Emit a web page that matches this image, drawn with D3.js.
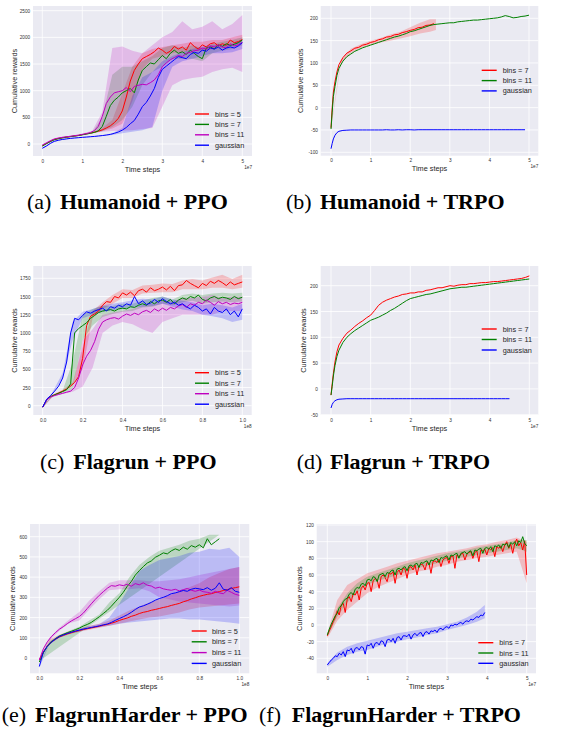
<!DOCTYPE html>
<html><head><meta charset="utf-8">
<script src="https://cdn.jsdelivr.net/npm/d3@7"></script>
<style>body{margin:0;background:#fff}svg{display:block}</style>
</head><body>
<svg id="fig" width="564" height="733"></svg>
<script>
// ---------------- DATA ----------------
// (a) Humanoid + PPO   x in units of 1e7 time steps
const aX = [0,0.1,0.2,0.3,0.4,0.5,0.6,0.7,0.8,0.9,1.0,1.1,1.2,1.3,1.4,1.5,1.6,1.7,1.8,1.9,2.0,2.1,2.2,2.3,2.4,2.5,2.6,2.7,2.8,2.9,3.0,3.1,3.2,3.3,3.4,3.5,3.6,3.7,3.8,3.9,4.0,4.1,4.2,4.3,4.4,4.5,4.6,4.7,4.8,4.9,5.0];
const aBins5  = [-30,10,50,85,105,118,130,140,150,160,175,190,205,220,240,265,300,340,400,480,620,880,1180,1380,1500,1600,1640,1680,1730,1800,1760,1700,1740,1830,1780,1820,1760,1900,1830,1780,1860,1820,1880,1900,1840,1880,1850,1950,1900,1920,1960];
const aBins7  = [-40,5,45,80,100,115,128,138,148,158,172,186,200,218,245,330,520,720,820,880,960,1000,1040,960,1200,1380,1450,1520,1500,1580,1660,1600,1700,1760,1700,1730,1680,1760,1700,1640,1600,1800,1820,1780,1860,1830,1880,1850,1870,1900,1950];
const aBins11 = [-20,20,60,95,112,125,135,145,155,165,180,195,215,250,330,520,760,880,960,980,1000,1060,980,1080,1100,1120,1110,1150,1200,1300,1450,1520,1580,1620,1660,1640,1700,1720,1750,1760,1800,1780,1840,1820,1860,1820,1800,1880,1840,1860,1900];
const aGauss  = [-80,-40,10,50,70,85,95,105,112,118,125,130,136,142,150,158,168,180,200,225,260,310,380,440,560,700,780,900,1040,1250,1400,1460,1520,1580,1640,1620,1600,1680,1720,1700,1760,1740,1800,1780,1820,1760,1800,1820,1800,1840,1900];
const aBX = [0,0.25,0.5,0.75,1.0,1.25,1.5,1.75,2.0,2.25,2.5,2.75,3.0,3.25,3.5,3.75,4.0,4.25,4.5,4.75,5.0];
const aBins5Lo  = [-40,65,110,138,170,205,245,290,380,800,1400,1600,1650,1700,1720,1750,1750,1780,1800,1850,1880];
const aBins5Hi  = [-20,80,125,150,182,220,300,450,950,1450,1700,1780,1820,1850,1880,1920,1920,1950,1950,2000,2050];
const aBins7Lo  = [-50,60,105,135,165,200,240,320,450,700,1100,1350,1450,1600,1600,1600,1550,1700,1750,1780,1850];
const aBins7Hi  = [-30,75,120,148,180,220,500,1300,1450,1450,1550,1650,1800,1850,1800,1850,1800,1880,1920,1950,2000];
const aBins11Lo = [-30,70,115,140,170,200,230,245,250,260,280,300,700,1100,1200,1240,1260,1350,1400,1430,1350];
const aBins11Hi = [-10,90,135,160,195,250,600,1800,1830,1750,1700,1850,2000,2100,2300,2150,2200,2300,2150,2250,2420];
const aGaussLo  = [-90,30,80,105,120,135,150,170,200,230,260,320,1000,1450,1550,1600,1650,1700,1700,1720,1780];
const aGaussHi  = [-70,50,95,118,132,145,165,200,300,900,1250,1350,1550,1650,1720,1780,1830,1860,1850,1880,1950];

// (b) Humanoid + TRPO   x in units of 1e7
const bX = [0,0.03,0.06,0.1,0.15,0.2,0.3,0.4,0.5,0.6,0.7,0.8,0.9,1.0,1.1,1.2,1.3,1.4,1.5,1.6,1.7,1.8,1.9,2.0,2.1,2.2,2.3,2.4,2.5,2.6,2.7,2.8,2.9,3.0,3.1,3.2,3.3,3.4,3.5,3.6,3.7,3.8,3.9,4.0,4.1,4.2,4.3,4.4,4.5,4.6,4.7,4.8,4.9,5.0];
const bBins7  = [-45,0,35,58,80,96,112,122,127,133,135,140,142,146,148,152,154,158,159,163,164,168,170,173,175,179,180,184,185,188];
const bBins11 = [-48,-10,25,47,72,88,104,114,120,126,130,134,137,140,143,146,149,152,155,158,160,163,166,170,172,175,178,181,184,186,187,188,189,190,190,192,193,194,195,196,196,197,198,199,200,201,203,206,204,201,202,204,205,207];
const bGauss  = [-92,-80,-70,-62,-56,-53,-51,-50.5,-50,-50,-50,-50,-50,-50,-50,-50,-50,-49.5,-50,-50,-49.5,-50,-49.5,-49.5,-50,-49.5,-49.5,-49.5,-49.5,-49.5,-49.5,-49.5,-49.5,-49.5,-49.5,-49.5,-49.5,-49.5,-49.5,-49.5,-49.5,-49.5,-49.5,-49.5,-49.5,-49.5,-49.5,-49.5,-49.5,-49.5,-49.5,-49.5,-49.5];
const bBX = [0,0.25,0.5,0.75,1.0,1.25,1.5,1.75,2.0,2.25,2.5,2.65];
const bBins7Lo = [-48,98,122,134,140,146,150,155,160,166,170,174];
const bBins7Hi = [-42,106,132,142,150,156,164,170,180,190,198,198];

// (c) Flagrun + PPO   x in units of 1e8
const cX = [0,0.02,0.04,0.06,0.08,0.1,0.12,0.14,0.16,0.18,0.2,0.22,0.24,0.26,0.28,0.3,0.32,0.34,0.36,0.38,0.4,0.42,0.44,0.46,0.48,0.5,0.52,0.54,0.56,0.58,0.6,0.62,0.64,0.66,0.68,0.7,0.72,0.74,0.76,0.78,0.8,0.82,0.84,0.86,0.88,0.9,0.92,0.94,0.96,0.98,1.0];
const cBins5  = [-20,80,125,150,175,200,230,270,320,400,650,1100,1230,1260,1300,1380,1430,1420,1500,1480,1550,1520,1560,1510,1580,1600,1560,1620,1580,1600,1630,1590,1640,1580,1650,1660,1720,1680,1650,1620,1680,1650,1710,1680,1720,1690,1650,1700,1660,1680,1700];
const cBins7  = [-20,80,125,150,170,195,220,300,1000,1060,1100,1140,1200,1240,1280,1300,1310,1320,1300,1330,1340,1330,1360,1350,1380,1400,1380,1430,1400,1440,1450,1420,1460,1400,1450,1480,1460,1500,1480,1520,1460,1440,1480,1500,1470,1490,1480,1460,1500,1470,1490];
const cBins11 = [-20,80,120,140,155,170,185,200,250,380,560,680,760,880,1050,1150,1180,1200,1210,1190,1230,1260,1240,1270,1250,1290,1310,1280,1330,1300,1340,1310,1350,1330,1370,1390,1350,1400,1380,1420,1400,1450,1420,1380,1430,1400,1420,1390,1410,1400,1420];
const cGauss  = [-20,90,140,200,270,380,600,1000,1200,1180,1240,1290,1270,1300,1320,1340,1300,1360,1340,1380,1360,1400,1380,1500,1400,1440,1390,1410,1460,1420,1470,1430,1400,1420,1380,1400,1360,1330,1380,1350,1300,1330,1260,1350,1300,1280,1330,1250,1300,1220,1330];
const cBX = [0,0.05,0.1,0.15,0.2,0.25,0.3,0.35,0.4,0.45,0.5,0.55,0.6,0.65,0.7,0.75,0.8,0.85,0.9,0.95,1.0];
const cBins5Lo  = [-25,130,190,280,500,1200,1330,1400,1480,1480,1540,1550,1560,1560,1600,1600,1600,1620,1620,1600,1620];
const cBins5Hi  = [-15,150,220,320,800,1300,1420,1520,1600,1590,1650,1660,1680,1670,1720,1740,1720,1760,1800,1740,1800];
const cBins7Lo  = [-25,130,180,230,900,1100,1220,1260,1290,1300,1350,1360,1400,1380,1420,1440,1400,1420,1430,1420,1430];
const cBins7Hi  = [-15,150,210,600,1250,1330,1370,1370,1400,1400,1440,1480,1500,1460,1520,1540,1520,1540,1550,1540,1550];
const cBins11Lo = [-25,120,160,190,260,520,1000,1100,1150,1120,1050,1000,1150,1200,1250,1250,1250,1250,1300,1300,1300];
const cBins11Hi = [-15,140,180,230,900,1050,1250,1280,1300,1330,1380,1400,1450,1430,1480,1480,1500,1520,1480,1500,1500];
const cGaussLo  = [-25,160,380,900,1200,1250,1290,1310,1330,1350,1360,1370,1400,1360,1320,1300,1250,1230,1200,1150,1180];
const cGaussHi  = [-15,190,450,1150,1290,1330,1380,1400,1420,1450,1470,1460,1500,1460,1440,1420,1380,1400,1380,1350,1400];

// (d) Flagrun + TRPO   x in units of 1e7
const dX = bX;
const dBins7  = [-12,10,30,52,72,85,98,108,114,121,127,132,138,143,152,162,168,172,175,178,180,183,184,186,186,188,188,191,192,194,196,196,198,200,199,201,202,202,204,204,205,206,206,207,208,208,209,210,211,212,213,214,216,219];
const dBins11 = [-12,5,25,45,63,75,90,100,107,113,118,123,128,133,136,139,143,147,152,156,161,166,171,175,177,179,181,183,184,186,188,190,192,194,195,196,197,197,198,199,200,201,202,203,204,205,206,207,208,209,210,211,212,213];
const dGauss  = [-37,-30,-26,-23,-21,-20,-19.5,-19,-19,-19,-19,-19,-19,-19,-19,-19,-19,-19,-19,-19,-19,-19,-19,-19,-19,-19,-19,-19,-19,-19,-19,-19,-19,-19,-19,-19,-19,-19,-19,-19,-19,-19,-19,-19,-19,-19,-19,-19,-19];

// (e) FlagrunHarder + PPO   x in units of 1e8
const eX = cX;
const eBins5  = [-10,30,58,78,92,104,112,119,125,131,136,141,145,149,153,157,162,166,172,178,186,192,198,206,212,220,226,230,236,240,245,250,254,260,265,270,278,284,292,298,305,310,315,318,324,328,334,338,344,348,352];
const eBins7  = [-20,25,58,80,95,108,117,125,132,140,148,158,166,176,190,204,220,236,256,278,300,325,355,378,410,432,452,470,480,498,508,520,515,530,540,532,548,538,556,548,560,545,590,560,575,590];
const eBins11 = [-10,45,80,105,125,142,155,170,183,194,205,222,245,268,290,310,328,345,358,355,362,358,365,355,368,362,372,360,356,345,350,342,338,335,340,332,338,344,335,330,336,328,325,320,330,322,318,335,325,315,310];
const eGauss  = [-42,28,58,78,93,106,114,121,127,133,138,143,147,151,155,159,164,168,176,186,195,204,214,226,240,252,258,266,275,286,294,300,308,318,322,328,334,330,340,345,342,338,348,335,345,372,340,335,348,330,325];
const eBX = cBX;
const eBins5Lo  = [-15,75,100,118,130,140,150,160,170,180,190,200,205,215,225,240,250,255,260,265,270];
const eBins5Hi  = [-5,90,115,132,145,160,170,185,210,235,255,275,290,310,330,350,370,400,420,440,450];
const eBins7Lo  = [-25,68,103,125,142,165,195,245,290,370,420,460,490,505,515,520,530,540,560];
const eBins7Hi  = [-15,80,113,135,155,185,215,275,320,400,460,500,530,545,560,580,590,610,610];
const eBins11Lo = [-15,85,135,172,185,240,290,335,340,340,345,330,300,290,280,275,270,265,260,255,260];
const eBins11Hi = [-5,100,150,190,228,285,330,372,385,385,385,380,380,385,390,400,410,420,430,440,450];
const eGaussLo  = [-48,65,100,120,130,145,152,160,170,175,180,185,190,195,195,190,190,185,180,175,170];
const eGaussHi  = [-36,80,112,130,145,158,168,200,270,350,430,460,485,495,505,520,525,540,535,545,500];

// (f) FlagrunHarder + TRPO   x in units of 1e7 (sampled every 0.05e7)
const fX = d3.range(0, 101).map(i => i * 0.05);
const fBins7  = [-13,-7,-2,4,9,17,12,24,26,15,31,34,28,38,36,41,30,44,47,42,
                  50,51,40,53,56,54,44,58,60,57,52,62,61,64,50,63,66,60,68,67,
                  56,69,70,66,72,60,71,73,72,66,75,74,62,76,77,75,79,70,78,80,
                  81,74,82,83,68,84,82,85,86,78,85,87,88,80,87,89,76,90,89,91,
                  84,92,90,93,82,94,92,95,88,96,100,92,97,86,98,103,95,99,90,101,60];
const fBins11 = [-12,-5,1,6,11,14,21,23,28,31,32,37,39,36,43,45,44,49,50,47,
                  54,55,53,58,57,52,60,61,62,58,63,62,65,66,60,67,68,66,69,70,
                  65,71,72,70,73,74,69,75,74,76,77,72,78,77,79,80,75,81,80,82,
                  83,78,84,83,85,86,80,86,87,88,85,88,89,83,90,89,91,92,86,92,
                  93,91,94,88,95,94,96,92,97,96,98,93,99,97,100,95,101,99,106,98,95];
const fGauss  = [-48,-45,-42,-40,-37,-38,-34,-36,-32,-38,-30,-31,-28,-34,-28,-27,-30,-26,-27,-35,
                  -24,-25,-22,-28,-22,-21,-24,-19,-20,-26,-18,-17,-20,-16,-22,-15,-14,-18,-13,-13,
                  -14,-11,-17,-12,-10,-13,-10,-9,-14,-9,-8,-11,-7,-8,-6,-9,-5,-4,-6,-3,
                  -2,-4,0,-1,1,0,2,3,1,4,5,4,7,6,8,10,9,12,11,15];
const fBX = [0,0.25,0.5,0.75,1.0,1.25,1.5,1.75,2.0,2.25,2.5,2.75,3.0,3.25,3.5,3.75,4.0,4.25,4.5,4.75,5.0];
const fBins7Lo  = [-16,5,18,28,38,45,50,55,60,64,66,70,72,76,78,80,82,84,86,88,50];
const fBins7Hi  = [-10,30,48,55,62,66,70,74,77,80,83,86,88,90,92,95,97,100,102,105,100];
const fBins11Lo = [-14,10,27,38,48,53,56,60,64,68,71,74,77,80,82,84,86,88,90,92,88];
const fBins11Hi = [-10,20,38,50,58,62,66,70,74,77,80,83,86,88,90,93,95,97,99,102,102];
const fGaussBX  = [0,0.25,0.5,0.75,1.0,1.25,1.5,1.75,2.0,2.25,2.5,2.75,3.0,3.25,3.5,3.75,3.95];
const fGaussLo  = [-50,-42,-36,-32,-30,-26,-22,-20,-17,-15,-12,-10,-6,-3,0,4,8];
const fGaussHi  = [-46,-33,-26,-22,-19,-16,-13,-10,-8,-6,-4,-2,1,4,9,16,24];

// tick values / labels
const ticksX5 = [0,1,2,3,4,5];
const ticksX1 = [0,0.2,0.4,0.6,0.8,1.0];
const aYTicks = [0,500,1000,1500,2000,2500];
const bYTicks = [-100,-50,0,50,100,150,200];
const cYTicks = [0,250,500,750,1000,1250,1500,1750];
const dYTicks = [-50,0,50,100,150,200];
const eYTicks = [0,100,200,300,400,500,600];
const fYTicks = [-40,-20,0,20,40,60,80,100,120];

// ---------------- STYLE / LAYOUT ----------------
const COL = {r:'#ff0000', g:'#008000', m:'#bf00bf', b:'#0000ff'};
const FONT = '"Liberation Sans", Arial, sans-serif';
const SERIF = '"Liberation Serif", "Times New Roman", serif';
const intFmt = d => String(d);

const panels = [
 {box:[33,6,252,156], xd:[0,5], xr:[42.3,242.3], yd:[0,2500], yr:[144,10.7],
  xt:ticksX5, xf:intFmt, yt:aYTicks, off:'1e7', ylx:14,
  bands:[[aBX,aBins5Lo,aBins5Hi,'r'],[aBX,aBins7Lo,aBins7Hi,'g'],[aBX,aBins11Lo,aBins11Hi,'m'],[aBX,aGaussLo,aGaussHi,'b']],
  lines:[[aX,aBins5,'r'],[aX,aBins7,'g'],[aX,aBins11,'m'],[aX,aGauss,'b']],
  leg:{x1:195,x2:209,tx:215,ys:[114,124.4,134.8,145.2],items:[['bins = 5','r'],['bins = 7','g'],['bins = 11','m'],['gaussian','b']]}},
 {box:[320.7,6,538.3,155.7], xd:[0,5], xr:[331,529], yd:[-100,200], yr:[152.3,18.3],
  xt:ticksX5, xf:intFmt, yt:bYTicks, off:'1e7', ylx:300.7,
  bands:[[bBX,bBins7Lo,bBins7Hi,'r']],
  lines:[[bX,bBins7,'r'],[bX,bBins11,'g'],[bX,bGauss,'b']],
  leg:{x1:481.7,x2:496.7,tx:502.7,ys:[70.3,80.6,90.9],items:[['bins = 7','r'],['bins = 11','g'],['gaussian','b']]}},
 {box:[33.3,266,251.7,415], xd:[0,1], xr:[42.7,242.3], yd:[0,1750], yr:[405.7,278.3],
  xt:ticksX1, xf:d3.format('.1f'), yt:cYTicks, off:'1e8', ylx:14,
  bands:[[cBX,cBins5Lo,cBins5Hi,'r'],[cBX,cBins7Lo,cBins7Hi,'g'],[cBX,cBins11Lo,cBins11Hi,'m'],[cBX,cGaussLo,cGaussHi,'b']],
  lines:[[cX,cBins5,'r'],[cX,cBins7,'g'],[cX,cBins11,'m'],[cX,cGauss,'b']],
  leg:{x1:195,x2:209,tx:215,ys:[372.7,383.2,393.7,404.2],items:[['bins = 5','r'],['bins = 7','g'],['bins = 11','m'],['gaussian','b']]}},
 {box:[320.7,266,538.3,415], xd:[0,5], xr:[331,529.3], yd:[-50,200], yr:[414.7,285.7],
  xt:ticksX5, xf:intFmt, yt:dYTicks, off:'1e7', ylx:303,
  bands:[],
  lines:[[dX,dBins7,'r'],[dX,dBins11,'g'],[dX,dGauss,'b']],
  leg:{x1:481.7,x2:496.7,tx:502.7,ys:[329,339.5,350],items:[['bins = 7','r'],['bins = 11','g'],['gaussian','b']]}},
 {box:[30,524,249.3,673.3], xd:[0,1], xr:[39.3,239.3], yd:[0,600], yr:[658,536.7],
  xt:ticksX1, xf:d3.format('.1f'), yt:eYTicks, off:'1e8', ylx:12.7,
  bands:[[eBX,eBins5Lo,eBins5Hi,'r'],[eBX,eBins7Lo,eBins7Hi,'g'],[eBX,eBins11Lo,eBins11Hi,'m'],[eBX,eGaussLo,eGaussHi,'b']],
  lines:[[eX,eBins5,'r'],[eX,eBins7,'g'],[eX,eBins11,'m'],[eX,eGauss,'b']],
  leg:{x1:191.7,x2:206.7,tx:212,ys:[631,641.8,652.6,663.4],items:[['bins = 5','r'],['bins = 7','g'],['bins = 11','m'],['gaussian','b']]}},
 {box:[316.7,524,536,673.3], xd:[0,5], xr:[327.3,526.7], yd:[-40,120], yr:[658.3,525],
  xt:ticksX5, xf:intFmt, yt:fYTicks, off:'1e7', ylx:299.3,
  bands:[[fBX,fBins7Lo,fBins7Hi,'r'],[fBX,fBins11Lo,fBins11Hi,'g'],[fGaussBX,fGaussLo,fGaussHi,'b']],
  lines:[[fX,fBins7,'r'],[fX,fBins11,'g'],[fX,fGauss,'b']],
  leg:{x1:478.3,x2:493.3,tx:499.3,ys:[642.7,653,663.3],items:[['bins = 7','r'],['bins = 11','g'],['gaussian','b']]}}
];

const captions = [
 {x:27, bx:60, y:208.5, lab:'(a)', txt:'Humanoid + PPO'},
 {x:286, bx:320, y:208.5, lab:'(b)', txt:'Humanoid + TRPO'},
 {x:40, bx:73.3, y:468.5, lab:'(c)', txt:'Flagrun + PPO'},
 {x:296.7, bx:330, y:468.5, lab:'(d)', txt:'Flagrun + TRPO'},
 {x:1.7, bx:35, y:721.5, lab:'(e)', txt:'FlagrunHarder + PPO'},
 {x:259, bx:291.7, y:721.5, lab:'(f)', txt:'FlagrunHarder + TRPO'}
];

// ---------------- DRAW ----------------
const svg = d3.select('#fig');
svg.append('rect').attr('width',564).attr('height',733).attr('fill','#fff');

panels.forEach((p, i) => {
  const [x0,y0,x1,y1] = p.box;
  const xs = d3.scaleLinear().domain(p.xd).range(p.xr);
  const ys = d3.scaleLinear().domain(p.yd).range(p.yr);
  const g = svg.append('g');
  const clipId = 'clip' + i;
  g.append('clipPath').attr('id', clipId).append('rect')
    .attr('x',x0).attr('y',y0).attr('width',x1-x0).attr('height',y1-y0);
  g.append('rect').attr('x',x0).attr('y',y0).attr('width',x1-x0).attr('height',y1-y0).attr('fill','#eaeaf2');
  // grid
  g.selectAll('.gx').data(p.xt).enter().append('line')
    .attr('x1',d=>xs(d)).attr('x2',d=>xs(d)).attr('y1',y0).attr('y2',y1)
    .attr('stroke','#fff').attr('stroke-width',0.8);
  g.selectAll('.gy').data(p.yt).enter().append('line')
    .attr('y1',d=>ys(d)).attr('y2',d=>ys(d)).attr('x1',x0).attr('x2',x1)
    .attr('stroke','#fff').attr('stroke-width',0.8);
  // axes
  const ax = g.append('g').attr('transform',`translate(0,${y1})`)
    .call(d3.axisBottom(xs).tickValues(p.xt).tickFormat(p.xf).tickSize(0).tickPadding(3.4));
  const ay = g.append('g').attr('transform',`translate(${x0},0)`)
    .call(d3.axisLeft(ys).tickValues(p.yt).tickFormat(intFmt).tickSize(0).tickPadding(2.8));
  [ax, ay].forEach(a => {
    a.select('.domain').remove();
    a.selectAll('text').attr('font-family',FONT).attr('font-size',4.7).attr('fill','#333');
  });
  // offset text
  g.append('text').attr('x',x1).attr('y',y1+12.5).attr('text-anchor','end')
    .attr('font-family',FONT).attr('font-size',4.7).attr('fill','#333').text(p.off);
  // axis labels
  g.append('text').attr('x',(x0+x1)/2).attr('y',y1+15.5).attr('text-anchor','middle')
    .attr('font-family',FONT).attr('font-size',7.3).attr('fill','#262626').text('Time steps');
  g.append('text').attr('transform',`translate(${p.ylx},${(y0+y1)/2}) rotate(-90)`)
    .attr('text-anchor','middle').attr('dominant-baseline','central')
    .attr('font-family',FONT).attr('font-size',7.3).attr('fill','#262626').text('Cumulative rewards');
  const plot = g.append('g').attr('clip-path',`url(#${clipId})`);
  // bands
  p.bands.forEach(([bx, lo, hi, c]) => {
    const pts = bx.map((x,k)=>[x, lo[k], hi[k]]);
    plot.append('path').datum(pts)
      .attr('d', d3.area().x(d=>xs(d[0])).y0(d=>ys(d[1])).y1(d=>ys(d[2])))
      .attr('fill', COL[c]).attr('fill-opacity', 0.2).attr('stroke','none');
  });
  // lines
  p.lines.forEach(([lx, vals, c]) => {
    const pts = vals.map((v,k)=>[lx[k], v]);
    plot.append('path').datum(pts)
      .attr('d', d3.line().x(d=>xs(d[0])).y(d=>ys(d[1])))
      .attr('fill','none').attr('stroke', COL[c]).attr('stroke-width',1).attr('stroke-linejoin','round');
  });
  // legend
  p.leg.items.forEach(([lab, c], k) => {
    const yy = p.leg.ys[k];
    g.append('line').attr('x1',p.leg.x1).attr('x2',p.leg.x2).attr('y1',yy).attr('y2',yy)
      .attr('stroke',COL[c]).attr('stroke-width',1.4);
    g.append('text').attr('x',p.leg.tx).attr('y',yy).attr('dominant-baseline','central')
      .attr('font-family',FONT).attr('font-size',7.3).attr('fill','#262626').text(lab);
  });
});

captions.forEach(c => {
  svg.append('text').attr('x',c.x).attr('y',c.y).attr('font-family',SERIF).attr('font-size',22)
    .attr('fill','#000').text(c.lab);
  svg.append('text').attr('x',c.bx).attr('y',c.y).attr('font-family',SERIF).attr('font-size',22)
    .attr('font-weight','bold').attr('fill','#000').text(c.txt);
});
</script>
</body></html>
